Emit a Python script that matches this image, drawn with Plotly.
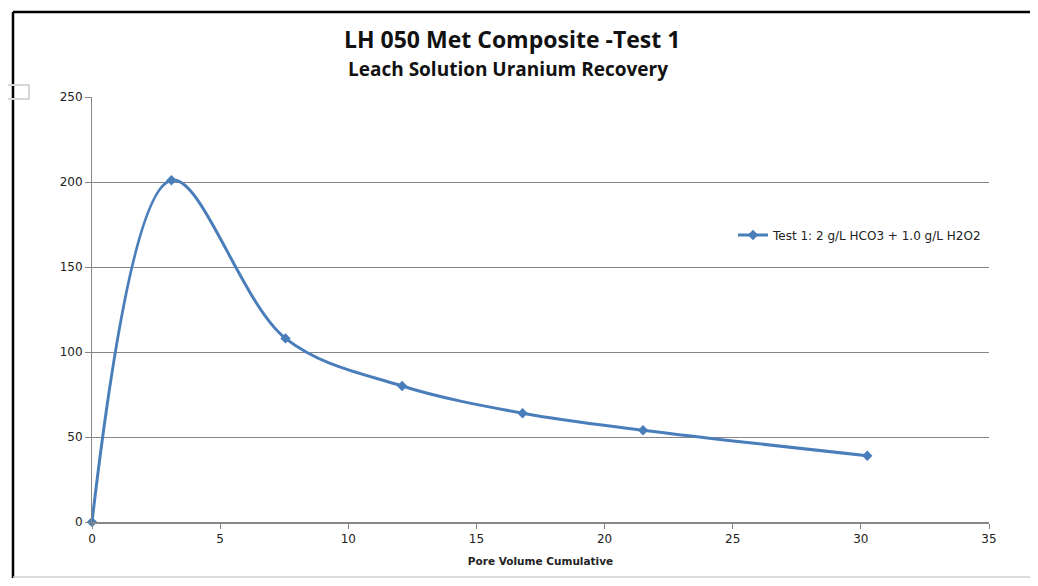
import plotly.graph_objects as go

pore_volume = [0, 3.1, 7.55, 12.1, 16.8, 21.5, 30.25]
uranium = [0, 201, 108, 80, 64, 54, 39]
series_name = "Test 1: 2 g/L HCO3 + 1.0 g/L H2O2"
title_1 = "LH 050 Met Composite -Test 1"
title_2 = "Leach Solution Uranium Recovery"

OFF = 8  # page body margin
W, H = 1038 - 2 * OFF, 586 - 2 * OFF
L, T = 92 - OFF, 97 - OFF
R = W - (989 - OFF)
B = H - (522 - OFF)
pw, ph = W - L - R, H - T - B

def px_x(p):
    return (p - OFF - L) / pw

def px_y(p):
    return (H - B - (p - OFF)) / ph

fig = go.Figure()
fig.add_trace(go.Scatter(
    x=pore_volume, y=uranium, mode="lines+markers", name=series_name,
    line=dict(color="#4a7ebb", width=3, shape="spline", smoothing=1.0),
    marker=dict(symbol="diamond", size=8, color="#4a7ebb"),
    cliponaxis=False,
))

grey = "#868686"
fig.update_layout(
    width=W, height=H,
    margin=dict(l=L, r=R, t=T, b=B),
    paper_bgcolor="white", plot_bgcolor="white",
    font=dict(family="DejaVu Sans, sans-serif", size=12, color="#222"),
    xaxis=dict(
        range=[0, 35], dtick=5, showgrid=False, zeroline=False,
        showline=True, linecolor=grey, linewidth=2,
        ticks="outside", ticklen=5, tickcolor=grey,
        tickfont=dict(size=12, color="#222"),
        title=dict(text="<b>Pore Volume Cumulative</b>", font=dict(size=10.5, color="#222"), standoff=12),
        automargin=False,
    ),
    yaxis=dict(
        range=[0, 250], dtick=50, showgrid=True, gridcolor=grey, gridwidth=1,
        zeroline=False, showline=True, linecolor=grey, linewidth=1,
        ticks="outside", ticklen=6, tickcolor=grey,
        tickfont=dict(size=12, color="#222"),
        automargin=False,
    ),
    legend=dict(
        x=px_x(733), y=px_y(235), xanchor="left", yanchor="middle",
        font=dict(size=12, color="#222"), bgcolor="rgba(0,0,0,0)",
    ),
    showlegend=True,
    annotations=[
        dict(text="<b>" + title_1 + "</b>", xref="paper", yref="paper",
             x=px_x(512), y=px_y(39), xanchor="center", yanchor="middle", showarrow=False,
             font=dict(family="Open Sans, sans-serif", size=23, color="#111")),
        dict(text="<b>" + title_2 + "</b>", xref="paper", yref="paper",
             x=px_x(508), y=px_y(69), xanchor="center", yanchor="middle", showarrow=False,
             font=dict(family="Open Sans, sans-serif", size=19, color="#111")),
    ],
    shapes=[
        dict(type="line", xref="paper", yref="paper",
             x0=px_x(13), x1=px_x(1045), y0=px_y(12), y1=px_y(12),
             line=dict(color="black", width=2.5)),
        dict(type="line", xref="paper", yref="paper",
             x0=px_x(13), x1=px_x(13), y0=px_y(12), y1=px_y(590),
             line=dict(color="black", width=2.5)),
        dict(type="line", xref="paper", yref="paper",
             x0=px_x(13), x1=px_x(1045), y0=px_y(577), y1=px_y(577),
             line=dict(color="#d0d0d0", width=1.5)),
        dict(type="rect", xref="paper", yref="paper",
             x0=px_x(-5), x1=px_x(29), y0=px_y(99), y1=px_y(85),
             line=dict(color="#d8d8d8", width=2)),
    ],
)

fig.write_html("out.html")
